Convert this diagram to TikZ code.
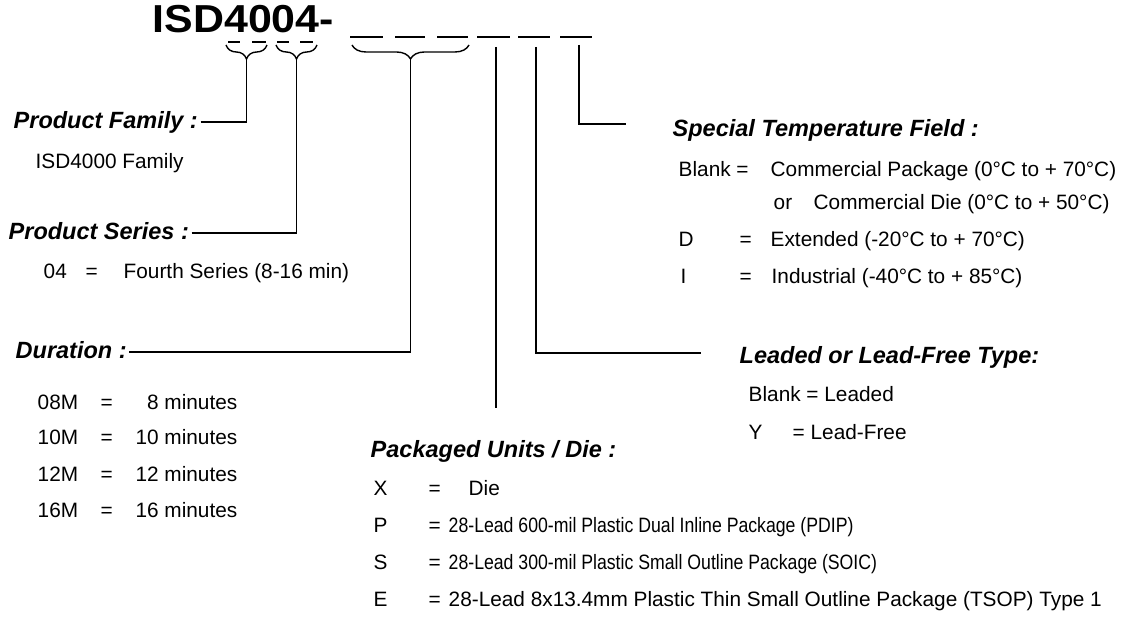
\documentclass[tikz,border=0pt]{standalone}
\usepackage{fontspec}
\setmainfont{Liberation Sans}
\newfontfamily\titlefont[FakeStretch=1.1]{Liberation Sans}
\newfontfamily\narrowfont[FakeStretch=0.85]{Liberation Sans}
\usetikzlibrary{decorations.pathreplacing}

\begin{document}
\begin{tikzpicture}[x=0.5pt, y=-0.5pt, line width=0.7pt,
    every node/.style={anchor=west, inner sep=1pt, text height=1.5ex, text depth=.25ex,
        font=\fontsize{10.4}{12}\selectfont},
    head/.style={font=\fontsize{11.75}{14}\selectfont\bfseries\itshape},
    narrow/.style={font=\narrowfont\fontsize{10.4}{12}\selectfont},
    brace/.style={decorate, decoration={brace, mirror, amplitude=7pt}}]
    \useasboundingbox (0,0) rectangle (1133,619);

    % part number
    \node[anchor=base west, font=\titlefont\fontsize{19.5}{22}\selectfont\bfseries] (pn) at (150,33) {ISD4004-};
    \draw (228,42) -- (240,42) (252,42) -- (266,42) (277,42) -- (289,42) (300,42) -- (313,42);
    \draw (350,37) -- (383,37) (395,37) -- (425,37) (437,37) -- (468,37)
          (477,37) -- (510,37) (518,37) -- (550,37) (560,37) -- (592,37);

    % braces and free ends
    \draw[brace] (226,45) -- (267,45);
    \draw[brace] (276,45) -- (317,45);
    \draw[brace] (352,45) -- (469,45);
    \coordinate (fam) at (246.5,59);
    \coordinate (ser) at (296.5,59);
    \coordinate (dur) at (410.5,59);
    \coordinate (pk) at (496,47);
    \coordinate (pkend) at (496,408);
    \coordinate (ld) at (536,47);
    \coordinate (ldend) at (701,353);
    \coordinate (sp) at (579,45);
    \coordinate (spend) at (626,124);

    % product family / series
    \node[head] (pf) at (11,122) {Product Family :};
    \node (pfv) at (33,162) {ISD4000 Family};
    \node[head] (ps) at (6,233) {Product Series :};
    \node (s04) at (41,272) {04};
    \node (s04eq) at (83,272) {=};
    \node (s04v) at (121,272) {Fourth Series (8-16 min)};

    % duration
    \node[head] (du) at (13,352) {Duration :};
    \node (d08) at (35,403) {08M};
    \node (d08eq) at (98,403) {=};
    \node[anchor=east] (d08v) at (240,403) {8 minutes};
    \node (d10) at (35,438) {10M};
    \node (d10eq) at (98,438) {=};
    \node[anchor=east] (d10v) at (240,438) {10 minutes};
    \node (d12) at (35,475) {12M};
    \node (d12eq) at (98,475) {=};
    \node[anchor=east] (d12v) at (240,475) {12 minutes};
    \node (d16) at (35,511) {16M};
    \node (d16eq) at (98,511) {=};
    \node[anchor=east] (d16v) at (240,511) {16 minutes};

    % packaged units
    \node[head] (pu) at (368,451) {Packaged Units / Die :};
    \node (px) at (371,489) {X};
    \node (pxeq) at (426,489) {=};
    \node (pxv) at (466,489) {Die};
    \node (pp) at (371,526) {P};
    \node (ppeq) at (426,526) {=};
    \node[narrow] (ppv) at (446,526) {28-Lead 600-mil Plastic Dual Inline Package (PDIP)};
    \node (pss) at (371,563) {S};
    \node (psseq) at (426,563) {=};
    \node[narrow] (pssv) at (446,563) {28-Lead 300-mil Plastic Small Outline Package (SOIC)};
    \node (pe) at (371,600) {E};
    \node (peeq) at (426,600) {=};
    \node (pev) at (446,600) {28-Lead 8x13.4mm Plastic Thin Small Outline Package (TSOP) Type 1};

    % temperature
    \node[head] (tf) at (670,130) {Special Temperature Field :};
    \node (tb) at (676,170) {Blank =};
    \node (tbv) at (768,170) {Commercial Package (0°C to + 70°C)};
    \node (tor) at (771,203) {or};
    \node (torv) at (811,203) {Commercial Die (0°C to + 50°C)};
    \node (td) at (676,240) {D};
    \node (tdeq) at (737,240) {=};
    \node (tdv) at (768,240) {Extended (-20°C to + 70°C)};
    \node (ti) at (678,277) {I};
    \node (tieq) at (737,277) {=};
    \node (tiv) at (769,277) {Industrial (-40°C to + 85°C)};

    % lead type
    \node[head] (lf) at (737,357) {Leaded or Lead-Free Type:};
    \node (lb) at (746,395) {Blank = Leaded};
    \node (ly) at (746,433) {Y};
    \node (lyv) at (790,433) {= Lead-Free};

    % connectors
    \draw (pf.east) -| (fam);
    \draw (ps.east) -| (ser);
    \draw (du.east) -| (dur);
    \draw (pk) -- (pkend);
    \draw (ld) |- (ldend);
    \draw (sp) |- (spend);
\end{tikzpicture}
\end{document}
